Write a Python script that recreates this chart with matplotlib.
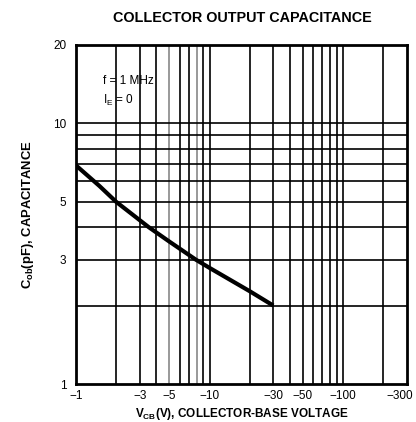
import matplotlib
matplotlib.use("Agg")
import matplotlib.pyplot as plt
from matplotlib.ticker import FixedLocator, FixedFormatter, NullLocator
import matplotlib.transforms as mtransforms

plt.rcParams['font.family'] = ['Liberation Sans', 'DejaVu Sans']
plt.rcParams['mathtext.fontset'] = 'custom'
plt.rcParams['mathtext.rm'] = 'Liberation Sans'
plt.rcParams['mathtext.bf'] = 'Liberation Sans:bold'

# data (|V_CB| in volts, C_ob in pF)
v_cb = [1, 1.5, 2, 3.5, 5, 7.9, 10, 20, 30]
c_ob = [6.9, 5.75, 5.0, 4.0, 3.52, 3.0, 2.79, 2.27, 2.0]

x_ticks = [1, 3, 5, 10, 30, 50, 100, 300]
x_labels = ["−1", "−3", "−5", "−10", "−30", "−50", "−100", "−300"]
y_ticks = [1, 3, 5, 10, 20]
y_labels = ["1", "3", "5", "10", "20"]

x_grid = [2, 3, 4, 5, 6, 7, 8, 9, 10, 20, 30, 40, 50, 60, 70, 80, 90, 100, 200]
x_grid_gray = [5, 8]
y_grid = [2, 3, 4, 5, 6, 7, 8, 9, 10]

fig = plt.figure(figsize=(4.16, 4.22), dpi=100)
ax = fig.add_axes([0.1827, 0.09, 0.7953, 0.8034])
ax.set_xscale('log')
ax.set_yscale('log')
ax.set_xlim(1, 300)
ax.set_ylim(1, 20)

for xv in x_grid:
    col = '#888888' if xv in x_grid_gray else 'black'
    ax.axvline(xv, color=col, lw=1.2, zorder=1)
for yv in y_grid:
    ax.axhline(yv, color='black', lw=1.2, zorder=1)

ax.plot(v_cb, c_ob, color='black', lw=3.0, zorder=3, solid_capstyle='butt')

ax.xaxis.set_major_locator(FixedLocator(x_ticks))
ax.xaxis.set_major_formatter(FixedFormatter(x_labels))
ax.xaxis.set_minor_locator(NullLocator())
ax.yaxis.set_major_locator(FixedLocator(y_ticks))
ax.yaxis.set_major_formatter(FixedFormatter(y_labels))
ax.yaxis.set_minor_locator(NullLocator())
ax.tick_params(axis='both', length=0, labelsize=8.5, pad=4)
ax.tick_params(axis='y', pad=7)

fig.canvas.draw()
last = ax.get_xticklabels()[-1]
last.set_transform(last.get_transform() +
                   mtransforms.ScaledTranslation(-7 / 100, 0, fig.dpi_scale_trans))

for s in ax.spines.values():
    s.set_linewidth(2.0)
    s.set_zorder(4)

ax.text(1.6, 14.5, "f = 1 MHz", fontsize=8.5, va='center', ha='left', zorder=5)
ax.text(1.6, 12.3, r"I$_{\mathrm{E}}$ = 0", fontsize=8.5, va='center', ha='left', zorder=5)

fig.text(0.583, 0.958, "COLLECTOR OUTPUT CAPACITANCE", ha='center', va='center',
         fontsize=10.4, fontweight='bold')
ax.set_xlabel(r"V$_{\mathbf{CB}}$(V), COLLECTOR-BASE VOLTAGE", fontsize=8.5,
              fontweight='bold', labelpad=3)
ax.set_ylabel(r"C$_{\mathbf{ob}}$(pF), CAPACITANCE", fontsize=9.4,
              fontweight='bold', labelpad=12)

fig.savefig("out.png", dpi=100)
